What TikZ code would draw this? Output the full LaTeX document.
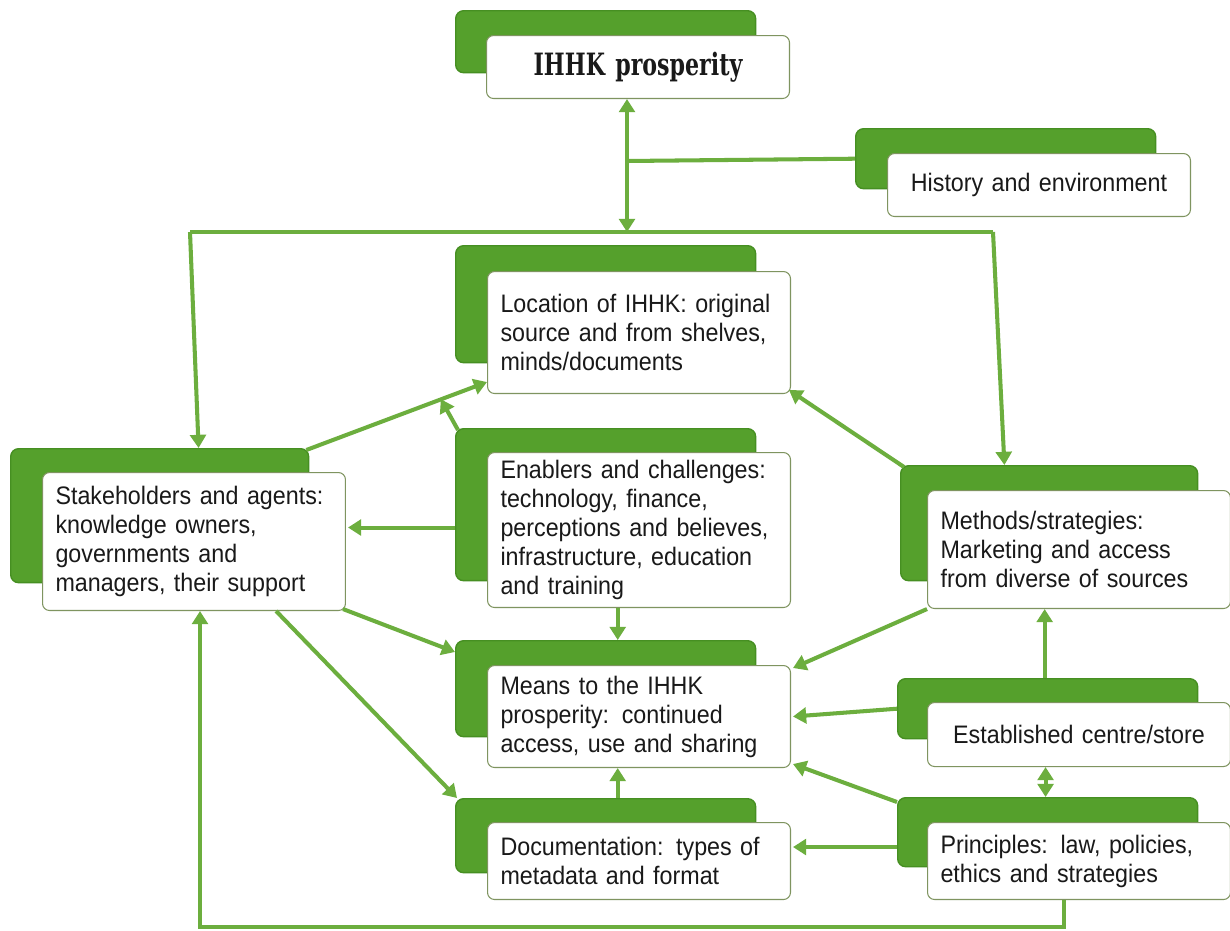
\documentclass[tikz,border=0pt]{standalone}
\usepackage{fontspec}
\usetikzlibrary{arrows.meta,calc}
\newfontfamily\agencyfont[FakeStretch=0.92]{Liberation Sans}
\newfontfamily\slabfont[FakeStretch=0.72]{DejaVu Serif}
\definecolor{gfill}{HTML}{55A02C}
\definecolor{gdark}{HTML}{468F22}
\definecolor{wline}{HTML}{7F9460}
\definecolor{lgreen}{HTML}{6CAE3E}
\tikzset{
  gbox/.style={draw=gdark, fill=gfill, line width=0.8pt, rounded corners=4.5pt, anchor=north west, minimum width=6cm, inner sep=0pt},
  wbox/.style={draw=wline, fill=white, line width=0.6pt, rounded corners=4pt, anchor=north west, minimum width=6.06cm, text width=5.54cm, inner xsep=0.26cm, inner ysep=0pt, align=left, text=black!90, font=\agencyfont\fontsize{14.4}{16.5}\selectfont},
  plainline/.style={draw=lgreen, line width=2.3pt},
  conn/.style={draw=lgreen, line width=2.3pt, -{Triangle[width=9pt,length=7.5pt]}},
  dbl/.style={draw=lgreen, line width=2.3pt, {Triangle[width=9pt,length=7.5pt]}-{Triangle[width=9pt,length=7.5pt]}}
}
\begin{document}
\begin{tikzpicture}[x=0.02cm,y=-0.02cm]
\useasboundingbox (0,0) rectangle (1230,930);
\fill[white] (0,0) rectangle (1230,930);

% boxes
\node[gbox, minimum height=1.24cm] (ihhkg) at (455,10) {};
\node[wbox, align=center, minimum height=1.26cm, font=\slabfont\bfseries\fontsize{17.5}{20}\selectfont] (ihhkw) at (486,35) {IHHK prosperity};

\node[gbox, minimum height=1.2cm] (histg) at (855,128) {};
\node[wbox, align=center, minimum height=1.26cm] (histw) at (887,153) {History and environment};

\node[gbox, minimum height=2.34cm] (locg) at (455,245) {};
\node[wbox, minimum height=2.44cm] (locw) at (487,271) {Location of IHHK: original\\source and from shelves,\\minds/documents};

\node[gbox, minimum width=5.96cm, minimum height=2.68cm] (stakeg) at (10,448) {};
\node[wbox, minimum height=2.76cm] (stakew) at (42,472) {Stakeholders and agents:\\knowledge owners,\\governments and\\managers, their support};

\node[gbox, minimum height=3.04cm] (enabg) at (455,428) {};
\node[wbox, minimum height=3.1cm] (enabw) at (487,452) {Enablers and challenges:\\technology, finance,\\perceptions and believes,\\infrastructure, education\\and training};

\node[gbox, minimum width=5.94cm, minimum height=2.3cm] (methg) at (900,465) {};
\node[wbox, minimum height=2.36cm] (methw) at (927,490) {Methods/strategies:\\Marketing and access\\from diverse of sources};

\node[gbox, minimum height=1.92cm] (meansg) at (455,640) {};
\node[wbox, minimum height=2.04cm] (meansw) at (487,665) {Means to the IHHK\\prosperity: continued\\access, use and sharing};

\node[gbox, minimum height=1.2cm] (estg) at (897,678) {};
\node[wbox, align=center, minimum height=1.28cm] (estw) at (927,702) {Established centre/store};

\node[gbox, minimum height=1.48cm] (docg) at (455,798) {};
\node[wbox, minimum height=1.54cm] (docw) at (487,822) {Documentation: types of\\metadata and format};

\node[gbox, minimum height=1.38cm] (ping) at (897,797) {};
\node[wbox, minimum height=1.54cm] (prinw) at (927,822) {Principles: law, policies,\\ethics and strategies};

% free-end coordinates
\coordinate (jt) at (627,232);
\coordinate (jh) at (627,161);
\coordinate (tl) at (190,232);
\coordinate (tr) at (993,232);
\coordinate (bl) at (200,927);

% top structure
\draw[dbl] (jt |- ihhkw.south) -- (jt);
\draw[plainline] (jh) -- (histg.west);
\draw[plainline] (tl) -- (tr);
\draw[conn] (tl) -- ($(stakeg.north west)!0.63!(stakeg.north east)$);
\draw[conn] (tr) -- ($(methg.north west)!0.35!(methg.north east)$);

% towards Location
\coordinate (locin) at ($(locw.south west)+(0,-12)$);
\draw[conn] ($(stakeg.north east)+(-3,2)$) -- (locin);
\draw[conn] ($(enabg.north west)+(3,2)$) -- ($(stakeg.north east)!0.74!(locin)$);
\draw[conn] ($(methg.north west)+(4,2)$) -- ($(locw.south east)+(-2,-4)$);

% Enablers to Stakeholders
\coordinate (stkin) at ($(stakew.east)+(2,-14)$);
\draw[conn] (enabg.west |- stkin) -- (stkin);

% towards Means
\coordinate (ex) at ($(enabw.south west)!0.43!(enabw.south east)$);
\draw[conn] (ex) -- (ex |- meansg.north);
\draw[conn] ($(stakew.south east)+(-3,-2)$) -- ($(meansg.north west)+(0,12)$);
\draw[conn] (methw.south west) -- ($(meansw.north east)+(2,3)$);
\draw[conn] (estg.west) -- ($(meansw.east)+(2,0)$);
\draw[conn] ($(ping.north west)+(0,5)$) -- ($(meansw.south east)+(2,-4)$);
\draw[conn] (ex |- docg.north) -- (ex |- meansw.south);

% towards Documentation
\draw[conn] ($(stakew.south west)!0.77!(stakew.south east)$) -- ($(docg.north west)+(2,0)$);
\coordinate (docin) at ($(docw.east)+(2,-14)$);
\draw[conn] (ping.west |- docin) -- (docin);

% right column
\coordinate (ep) at ($(estw.south west)!0.39!(estw.south east)$);
\draw[dbl] (ep) -- (ep |- ping.north);
\coordinate (em) at ($(estg.north west)!0.49!(estg.north east)$);
\draw[conn] (em) -- (em |- methw.south);

% bottom loop
\coordinate (pb) at ($(prinw.south west)!0.45!(prinw.south east)$);
\draw[conn] (pb) -- (pb |- bl) -- (bl) -- (bl |- stakew.south);
\end{tikzpicture}
\end{document}
